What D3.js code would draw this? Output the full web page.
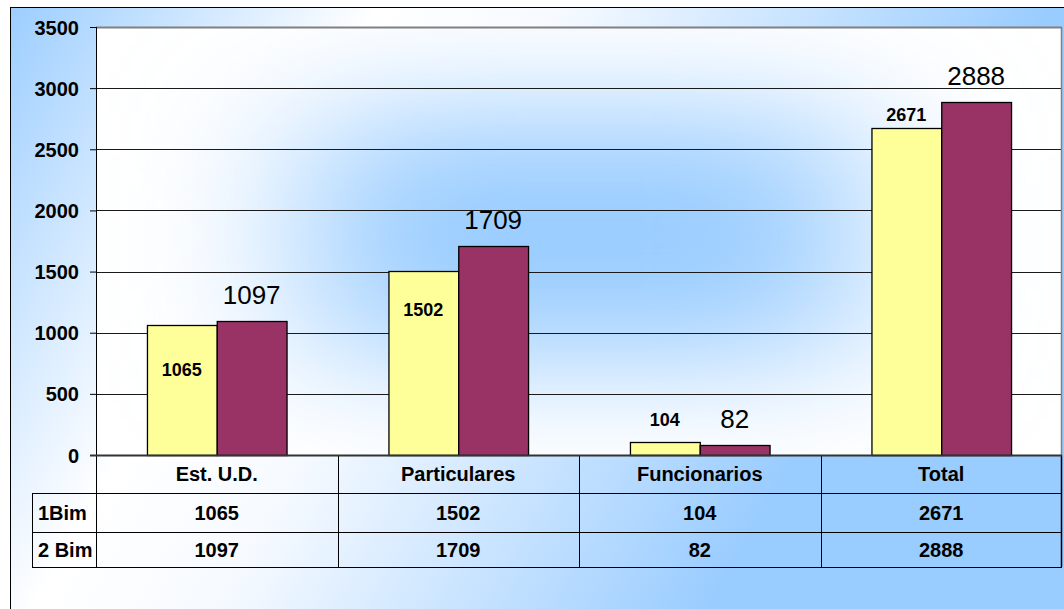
<!DOCTYPE html>
<html>
<head>
<meta charset="utf-8">
<script src="https://cdn.jsdelivr.net/npm/d3@7"></script>
<style>
  body { margin: 0; background: #fff; }
  svg { display: block; font-family: "Liberation Sans", Arial, sans-serif; }
</style>
</head>
<body>
<div id="chartDiv"></div>
<script>
// data
var categories = ["Est. U.D.", "Particulares", "Funcionarios", "Total"];
var seriesNames = ["1Bim", "2 Bim"];
var bim1 = [1065, 1502, 104, 2671];
var bim2 = [1097, 1709, 82, 2888];
var yTicks = [0, 500, 1000, 1500, 2000, 2500, 3000, 3500];

// layout
var width = 1064, height = 609;
var plot = {left: 96, right: 1062, top: 27, bottom: 455};
var rowH = [38, 39, 35];          // header row, 1Bim row, 2 Bim row
var rowLabelLeft = 32;
var label1Dy = [51, 45, -16, -7]; // the first series labels were placed by hand in the original
var colors = ["#ffff99", "#993366"];

var svg = d3.select("#chartDiv")
  .append("svg")
    .attr("width", width)
    .attr("height", height);

var defs = svg.append("defs");

var bg = defs.append("linearGradient")
    .attr("id", "bgGrad")
    .attr("gradientUnits", "userSpaceOnUse")
    .attr("x1", 0).attr("y1", 0).attr("x2", width).attr("y2", height);
[[0, "#99ccff"], [0.27, "#ffffff"], [0.4, "#f6faff"], [0.75, "#99ccff"], [1, "#99ccff"]]
  .forEach(s => bg.append("stop").attr("offset", s[0]).attr("stop-color", s[1]));

defs.append("clipPath").attr("id", "plotClip")
  .append("rect")
    .attr("x", plot.left).attr("y", plot.top)
    .attr("width", plot.right - plot.left).attr("height", plot.bottom - plot.top);

defs.append("filter")
    .attr("id", "blur")
    .attr("x", -1).attr("y", -1).attr("width", 3).attr("height", 3)
  .append("feGaussianBlur")
    .attr("stdDeviation", "90 62");

// chart area
svg.append("rect")
    .attr("x", 10.5).attr("y", 7.5)
    .attr("width", width + 10).attr("height", height + 10)
    .attr("fill", "url(#bgGrad)")
    .attr("stroke", "#000");

// plot area: white with a soft blue centre
var pa = svg.append("g").attr("clip-path", "url(#plotClip)");
pa.append("rect")
    .attr("x", plot.left).attr("y", plot.top)
    .attr("width", plot.right - plot.left).attr("height", plot.bottom - plot.top)
    .attr("fill", "#fff");
var pw = plot.right - plot.left, ph = plot.bottom - plot.top;
pa.append("rect")
    .attr("x", plot.left + pw * 0.22).attr("y", plot.top + ph * 0.2)
    .attr("width", pw * 0.57).attr("height", ph * 0.58)
    .attr("fill", "#99ccff")
    .attr("filter", "url(#blur)");

var x = d3.scaleBand()
    .domain(categories)
    .range([plot.left, plot.right])
    .paddingInner(0.422)
    .paddingOuter(0.211);

var xs = d3.scaleBand()
    .domain(seriesNames)
    .range([0, x.bandwidth()]);

var y = d3.scaleLinear()
    .domain([0, 3500])
    .range([plot.bottom, plot.top]);

// gridlines
svg.append("g")
  .selectAll("line")
  .data(yTicks.filter(t => t > 0))
  .join("line")
    .attr("x1", plot.left).attr("x2", plot.right)
    .attr("y1", d => Math.round(y(d)) + 0.5).attr("y2", d => Math.round(y(d)) + 0.5)
    .attr("stroke", d => d === 3500 ? "#808080" : "#1a1a1a")
    .attr("stroke-width", d => d === 3500 ? 2 : 1);

svg.append("line")
    .attr("x1", plot.right - 0.5).attr("x2", plot.right - 0.5)
    .attr("y1", plot.top).attr("y2", plot.bottom)
    .attr("stroke", "#808080").attr("stroke-width", 1.5);

// bars
var rows = categories.map((c, i) => ({cat: c, vals: [bim1[i], bim2[i]], i}));

var grp = svg.append("g")
  .selectAll("g")
  .data(rows)
  .join("g")
    .attr("transform", d => `translate(${x(d.cat)},0)`);

grp.selectAll("rect")
  .data(d => d.vals.map((v, k) => ({v, k})))
  .join("rect")
    .attr("x", d => xs(seriesNames[d.k]) + 0.5)
    .attr("y", d => Math.round(y(d.v)) + 0.5)
    .attr("width", xs.bandwidth())
    .attr("height", d => plot.bottom - Math.round(y(d.v)))
    .attr("fill", d => colors[d.k])
    .attr("stroke", "#000")
    .attr("stroke-width", 1.3);

// labels, first series (bold, small)
grp.append("text")
    .attr("x", xs(seriesNames[0]) + xs.bandwidth() / 2)
    .attr("y", d => y(d.vals[0]) + label1Dy[d.i])
    .attr("text-anchor", "middle")
    .attr("font-weight", "bold")
    .attr("font-size", 18)
    .text(d => d.vals[0]);

// labels, second series (regular, large)
grp.append("text")
    .attr("x", xs(seriesNames[1]) + xs.bandwidth() / 2)
    .attr("y", d => y(d.vals[1]) - 17)
    .attr("text-anchor", "middle")
    .attr("font-size", 26)
    .text(d => d.vals[1]);

// y axis
var yAxis = svg.append("g")
    .attr("transform", `translate(${plot.left},0)`)
    .call(d3.axisLeft(y).tickValues(yTicks).tickSize(6).tickPadding(11).tickFormat(d3.format("d")));
yAxis.select(".domain").remove();
yAxis.selectAll(".tick line").attr("stroke", "#000");
yAxis.selectAll(".tick text")
    .attr("font-family", "Liberation Sans, Arial, sans-serif")
    .attr("font-size", 20)
    .attr("font-weight", "bold")
    .attr("fill", "#000")
    .attr("dy", "0.35em");

svg.append("line")
    .attr("x1", plot.left + 0.5).attr("x2", plot.left + 0.5)
    .attr("y1", plot.top).attr("y2", plot.bottom + rowH[0] + rowH[1] + rowH[2])
    .attr("stroke", "#000");

// data table
var t = svg.append("g").attr("stroke", "#000").attr("fill", "none");
var y0 = plot.bottom, y1 = y0 + rowH[0], y2 = y1 + rowH[1], y3 = y2 + rowH[2];
var colEdge = c => x(c) - (x.step() - x.bandwidth()) / 2;

[[y1, rowLabelLeft], [y2, rowLabelLeft], [y3, rowLabelLeft]].forEach(r => {
  t.append("line").attr("x1", r[1]).attr("x2", plot.right)
    .attr("y1", r[0] + 0.5).attr("y2", r[0] + 0.5);
});
t.append("line").attr("x1", rowLabelLeft + 0.5).attr("x2", rowLabelLeft + 0.5)
  .attr("y1", y1).attr("y2", y3);
categories.slice(1).concat([null]).forEach(c => {
  var xx = c ? Math.round(colEdge(c)) + 0.5 : plot.right - 0.5;
  t.append("line").attr("x1", xx).attr("x2", xx).attr("y1", y0).attr("y2", y3)
    .attr("stroke-width", c ? 1 : 1.5);
});

// zero line on top of the bars
svg.append("line")
    .attr("x1", plot.left - 6).attr("x2", plot.right)
    .attr("y1", plot.bottom + 0.5).attr("y2", plot.bottom + 0.5)
    .attr("stroke", "#333").attr("stroke-width", 2);

var tt = svg.append("g")
    .attr("font-size", 20)
    .attr("font-weight", "bold")
    .attr("fill", "#000");

tt.selectAll(".hdr")
  .data(categories)
  .join("text")
    .attr("class", "hdr")
    .attr("x", c => x(c) + x.bandwidth() / 2)
    .attr("y", (y0 + y1) / 2)
    .attr("dy", "0.35em")
    .attr("text-anchor", "middle")
    .text(c => c);

[[bim1, (y1 + y2) / 2], [bim2, (y2 + y3) / 2]].forEach((r, k) => {
  tt.append("text")
      .attr("x", rowLabelLeft + 6)
      .attr("y", r[1])
      .attr("dy", "0.35em")
      .text(seriesNames[k]);
  tt.selectAll(".v" + k)
    .data(r[0])
    .join("text")
      .attr("class", "v" + k)
      .attr("x", (v, i) => x(categories[i]) + x.bandwidth() / 2)
      .attr("y", r[1])
      .attr("dy", "0.35em")
      .attr("text-anchor", "middle")
      .text(v => v);
});
</script>
</body>
</html>
